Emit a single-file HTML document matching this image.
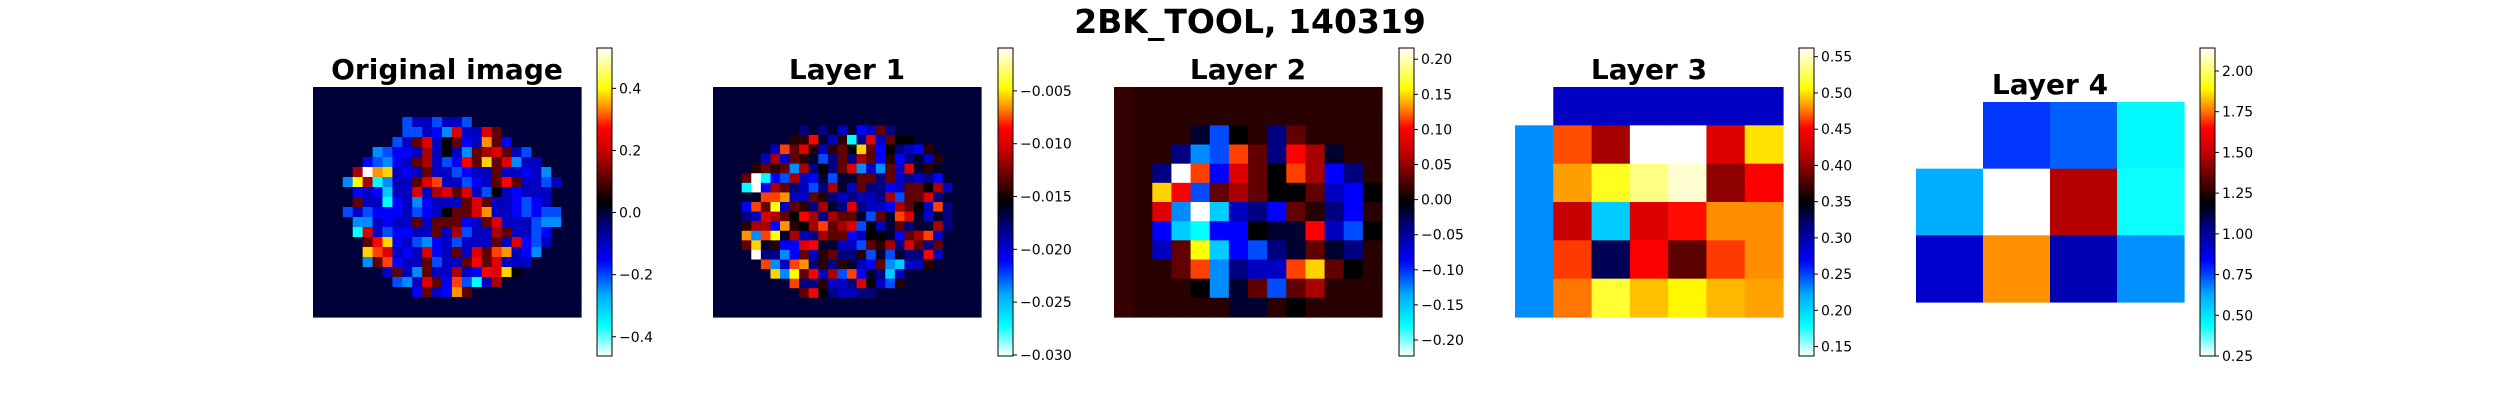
<!DOCTYPE html>
<html><head><meta charset="utf-8"><style>
html,body{margin:0;padding:0;background:#fff;}
svg{display:block;}
text{font-family:"DejaVu Sans","Liberation Sans",sans-serif;}
</style></head>
<body>
<svg id="fig" xmlns="http://www.w3.org/2000/svg" width="2500" height="400" viewBox="0 0 2500 400">
<defs>
<linearGradient id="cmapgrad" x1="0" y1="1" x2="0" y2="0">
<stop offset="0" stop-color="#ffffff"/><stop offset="0.1" stop-color="#00ffff"/><stop offset="0.2" stop-color="#00aaff"/><stop offset="0.31" stop-color="#0000ff"/><stop offset="0.42" stop-color="#000080"/><stop offset="0.5" stop-color="#000000"/><stop offset="0.58" stop-color="#600000"/><stop offset="0.67" stop-color="#cc0000"/><stop offset="0.74" stop-color="#ff0000"/><stop offset="0.8" stop-color="#ff8000"/><stop offset="0.87" stop-color="#ffff00"/><stop offset="1" stop-color="#ffffff"/>
</linearGradient>
</defs>
<text x="1250" y="33" font-size="33" font-weight="bold" text-anchor="middle">2BK_TOOL, 140319</text>
</svg>
<script>
// ---------- data ----------
const codeChars = ['W','c','l','s','m','b','B','n','.','v','k','d','q','D','r','R','e','o','O','y','Y','P','H'];
const codeFracs = [0,0.1,0.16,0.22,0.26,0.31,0.365,0.42,0.465,0.47,0.5,0.534,0.545,0.58,0.64,0.695,0.74,0.77,0.81,0.845,0.87,0.93,1.0];

const origRange = [-0.462, 0.53];
const origRows = [
"...........................",
"...........................",
"...........................",
".........mBBmBBm...........",
".........mmBbsRBBRD........",
"........mBDRBkDbBODb.......",
"......smbbBrBkBsDrRDBm.....",
".....bmsbBDrBmbeDyDRsBB....",
"....rHOyBbBDBBmbBBDBBbBs...",
"...sYrcsBBDRoBBmbBDeDBBmB..",
"....bBblBBRBrRDRBmkBbBBBv..",
"....DBBcbBsbBBBDRDBBbmbB...",
"...mBmbbbBmbBkDDROBBbmbmm..",
"....ssBbBBDBDDDbBDRBBBmss..",
"....cRBmbbBBDBrmBBrDBBmb...",
".....DeybBmsbBmBBBDBRbmB...",
".....yoRBbBRbBDBRDoOBbs....",
".....sDobBBDmBBDeDRBBB.....",
".......BDBsDBBrBbeRyk......",
"........msBRDbomcBr........",
"..........bDBbOD...........",
"...........................",
"..........................."
];

const l1Range = [-0.0301, -0.00094];
const l1Rows = [
"............................",
"............................",
"............................",
"............................",
".........nvnvBvbBDn.........",
"........ddevBdcnRBDkk.......",
"......BoDRdBdDkyDbknBbd.....",
".....BrBDdvmnDnrDbdbnvBdv...",
"....dDdDsrnknDRsBsDBRvdv....",
"...DWcbmrBbvmvvDDnDBnBnbv...",
"...cWbrDnBmnrvBDnnbBDDkrB...",
"...vvooOBBDdnBnBBnrmDDRnv...",
"...boDYBDdnrvnRnBBbrDkBon...",
"...nBRrDkernrDDvmDvoRvBvn...",
"...drrbOdkroDrRmkBvDnvvrn...",
"...OsoYvrBnrDDbBkkvbDroB....",
"...DyvdbbRevvBBmDdrnRDnDv...",
"....WnnsbDBdDnndmvmvnneB....",
".....osBoOndndvBbDslBBdv....",
"......ysYDeBrmobvnlB.v......",
"........onndBBnRkBmd........",
".........DeknBBnn...........",
"............................",
"............................"
];

const l2Range = [-0.2228, 0.216];
const l2Rows = [
"qddddddddddddd",
"qddddddddddddd",
"qdddvmkdnDdddd",
"qddnsmoDnervdd",
"qdnWobRDkorbnd",
"qdyemDrDkkDBbk",
"qdRsWlBnbDdnbd",
"qdblcbbkvveBmk",
"qdBDYlbmnvDvnd",
"qddDosnBBoyDkd",
"qdddksvDmDrddd",
"qdddddvvdkdddd"
];

const l3Range = [0.137, 0.562];
const l3Values = [
[null,0.29,0.29,0.29,0.29,0.29,0.29],
[0.23,0.467,0.408,0.562,0.562,0.433,0.50],
[0.23,0.484,0.513,0.535,0.552,0.40,0.45],
[0.23,0.42,0.205,0.433,0.454,0.48,0.48],
[0.23,0.463,0.327,0.45,0.382,0.463,0.48],
[0.23,0.475,0.518,0.492,0.505,0.49,0.485]
];

const l4Range = [0.25, 2.141];
const l4Values = [
[null,0.77,0.72,0.45],
[0.62,2.14,1.48,0.43],
[0.92,1.78,0.96,0.66]
];

const cb1Ticks = [-0.4,-0.2,0.0,0.2,0.4];
const cb2Ticks = [-0.030,-0.025,-0.020,-0.015,-0.010,-0.005];
const cb3Ticks = [-0.20,-0.15,-0.10,-0.05,0.00,0.05,0.10,0.15,0.20];
const cb4Ticks = [0.15,0.20,0.25,0.30,0.35,0.40,0.45,0.50,0.55];
const cb5Ticks = [0.25,0.50,0.75,1.00,1.25,1.50,1.75,2.00];

// ---------- rendering ----------
const NS = 'http://www.w3.org/2000/svg';
const svg = document.getElementById('fig');
const stops = [[0,[255,255,255]],[0.1,[0,255,255]],[0.2,[0,170,255]],[0.31,[0,0,255]],[0.42,[0,0,128]],[0.5,[0,0,0]],[0.58,[96,0,0]],[0.67,[204,0,0]],[0.74,[255,0,0]],[0.8,[255,128,0]],[0.87,[255,255,0]],[1,[255,255,255]]];
function cmap(t){
  t=Math.max(0,Math.min(1,t));
  for(let i=1;i<stops.length;i++){
    if(t<=stops[i][0]){
      const a=stops[i-1],b=stops[i];const f=(t-a[0])/(b[0]-a[0]);
      const c=a[1].map((v,k)=>Math.round(v+(b[1][k]-v)*f));
      return 'rgb('+c.join(',')+')';
    }
  }
  return '#fff';
}
function codeValue(ch, range){
  const i = codeChars.indexOf(ch);
  return range[0] + codeFracs[i]*(range[1]-range[0]);
}
function rowsToValues(rows, range){
  return rows.map(r => r.split('').map(ch => codeValue(ch, range)));
}
function mk(tag, attrs){
  const e=document.createElementNS(NS,tag);
  for(const k in attrs) e.setAttribute(k,attrs[k]);
  return e;
}
function drawHeatmap(name, values, range, x0, y0, w, h){
  const g=mk('g',{});
  
  
  const nr=values.length, nc=values[0].length;
  const cw=w/nc, ch=h/nr;
  const xs=c=>x0+c*cw, ys=r=>y0+r*ch;
  values.forEach((row,r)=>row.forEach((v,c)=>{
    if(v===null) return;
    const t=(v-range[0])/(range[1]-range[0]);
    const rect=mk('rect',{x:xs(c).toFixed(2),y:ys(r).toFixed(2),width:(cw+0.6).toFixed(2),height:(ch+0.6).toFixed(2),fill:cmap(t)});
    
    
    g.appendChild(rect);
  }));
  svg.appendChild(g);
}
function drawTitle(name, text, cx, y){
  const t=mk('text',{x:cx,y:y,'font-size':28,'font-weight':'bold','text-anchor':'middle'});
  t.textContent=text;
  
  
  svg.appendChild(t);
}
function drawColorbar(name, x, range, ticks, dec){
  const top=48, bot=356, w=15;
  const g=mk('g',{});
  
  
  g.appendChild(mk('rect',{x:x,y:top,width:w,height:bot-top,fill:'url(#cmapgrad)',stroke:'#000','stroke-width':1}));
  const ys=v=>bot-(v-range[0])/(range[1]-range[0])*(bot-top);
  ticks.forEach(v=>{
    const y=ys(v);
    g.appendChild(mk('line',{x1:x+w,x2:x+w+4,y1:y,y2:y,stroke:'#000','stroke-width':1}));
    const t=mk('text',{x:x+w+7,y:y+5,'font-size':14});
    t.textContent=(v<0?'\u2212':'')+Math.abs(v).toFixed(dec);
    
    
    g.appendChild(t);
  });
  svg.appendChild(g);
}

drawHeatmap('original-image-heatmap', rowsToValues(origRows, origRange), origRange, 313, 87, 268, 230);
drawHeatmap('layer-1-heatmap', rowsToValues(l1Rows, l1Range), l1Range, 713, 87, 268, 230);
drawHeatmap('layer-2-heatmap', rowsToValues(l2Rows, l2Range), l2Range, 1114, 87, 268, 230);
drawHeatmap('layer-3-heatmap', l3Values, l3Range, 1515, 87, 268, 230);
drawHeatmap('layer-4-heatmap', l4Values, l4Range, 1916, 102, 268, 200);

drawTitle('original-image-title','Original image',447,79);
drawTitle('layer-1-title','Layer 1',847,79);
drawTitle('layer-2-title','Layer 2',1248,79);
drawTitle('layer-3-title','Layer 3',1649,79);
drawTitle('layer-4-title','Layer 4',2050,94);

drawColorbar('colorbar-original', 597, origRange, cb1Ticks, 1);
drawColorbar('colorbar-layer-1', 998, l1Range, cb2Ticks, 3);
drawColorbar('colorbar-layer-2', 1399, l2Range, cb3Ticks, 2);
drawColorbar('colorbar-layer-3', 1799, l3Range, cb4Ticks, 2);
drawColorbar('colorbar-layer-4', 2200, l4Range, cb5Ticks, 2);
</script>
</body></html>
